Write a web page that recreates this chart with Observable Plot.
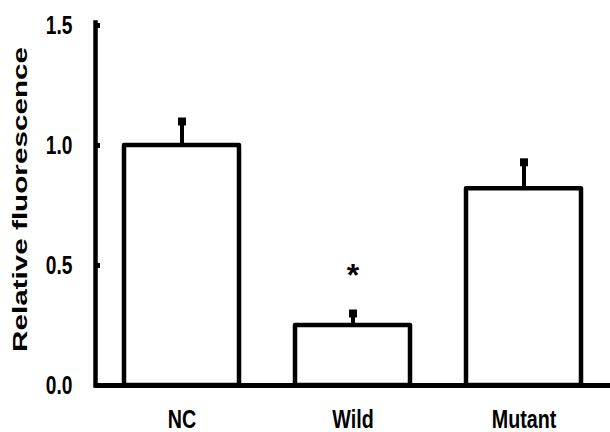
<!DOCTYPE html>
<html>
<head>
<meta charset="utf-8">
<script src="https://cdn.jsdelivr.net/npm/d3@7"></script>
<script src="https://cdn.jsdelivr.net/npm/@observablehq/plot@0.6"></script>
<style>
  html, body { margin: 0; padding: 0; background: #fff; }
  #chart svg { display: block; }
</style>
</head>
<body>
<div id="chart"></div>
<script>
const groups = ["NC", "Wild", "Mutant"];
const means = [1.00, 0.25, 0.82];
const upper = [1.10, 0.30, 0.93];
const significant = [false, true, false];
const yTicks = [0.0, 0.5, 1.0, 1.5];
const yLabel = "Relative fluorescence";

const data = groups.map((g, i) => ({group: g, value: means[i], upper: upper[i], sig: significant[i]}));

const font = "'Liberation Sans', Arial, sans-serif";

const chart = Plot.plot({
  width: 610,
  height: 432,
  marginLeft: 95,
  marginRight: 0,
  marginTop: 25,
  marginBottom: 47,
  style: {background: "white", color: "black"},
  x: {domain: groups, paddingInner: 0.33, paddingOuter: 0.165, label: null},
  y: {domain: [0, 1.5], label: null},
  marks: [
    Plot.ruleX(data, {x: "group", y1: "value", y2: "upper", stroke: "black", strokeWidth: 4}),
    Plot.dot(data, {x: "group", y: "upper", symbol: "square", r: 4.5, fill: "black", stroke: null}),
    Plot.barY(data, {x: "group", y: "value", fill: "white", stroke: "black", strokeWidth: 4.5, strokeLinejoin: "round"}),
    Plot.frame({anchor: "left", stroke: "black", strokeWidth: 4.5, insetTop: -3}),
    Plot.axisY({ticks: yTicks, tickSize: -5, strokeWidth: 5, text: null, label: null}),
    Plot.axisY({ticks: yTicks, tickSize: 0, tickPadding: 23, tickFormat: d3.format(".1f"),
      fontSize: 24, fontWeight: "bold", fontFamily: font, label: null, className: "ytick"}),
    Plot.ruleY([0], {stroke: "black", strokeWidth: 5}),
    Plot.axisX({tickSize: 0, tickPadding: 24, fontSize: 24, fontWeight: "bold", fontFamily: font, label: null, className: "xtick"}),
    Plot.text(data.filter(d => d.sig), {x: "group", y: "upper", text: () => "*", dy: -38,
      fontSize: 32, fontWeight: "bold", fontFamily: font}),
    Plot.text([yLabel], {frameAnchor: "left", rotate: -90, className: "ylab",
      fontSize: 20, fontWeight: "bold", fontFamily: font})
  ]
});

document.getElementById("chart").appendChild(chart);

// condensed look for tick labels (no narrow font installed)
d3.select(chart).selectAll("g.ytick text").each(function() {
  const t = this.getAttribute("transform") || "";
  this.setAttribute("transform", t + " scale(0.8,1.05)");
});
d3.select(chart).selectAll("g.xtick text").each(function() {
  const t = this.getAttribute("transform") || "";
  this.setAttribute("transform", t + " scale(0.82,1.08)");
});

// y-axis title: stretched to the reference's length
d3.select(chart).selectAll("g.ylab").attr("transform", null);
d3.select(chart).selectAll("g.ylab text")
  .attr("transform", "translate(27,352) rotate(-90)")
  .attr("x", null).attr("y", null).attr("dy", null)
  .attr("text-anchor", "start")
  .attr("textLength", 305)
  .attr("lengthAdjust", "spacingAndGlyphs");
</script>
</body>
</html>
